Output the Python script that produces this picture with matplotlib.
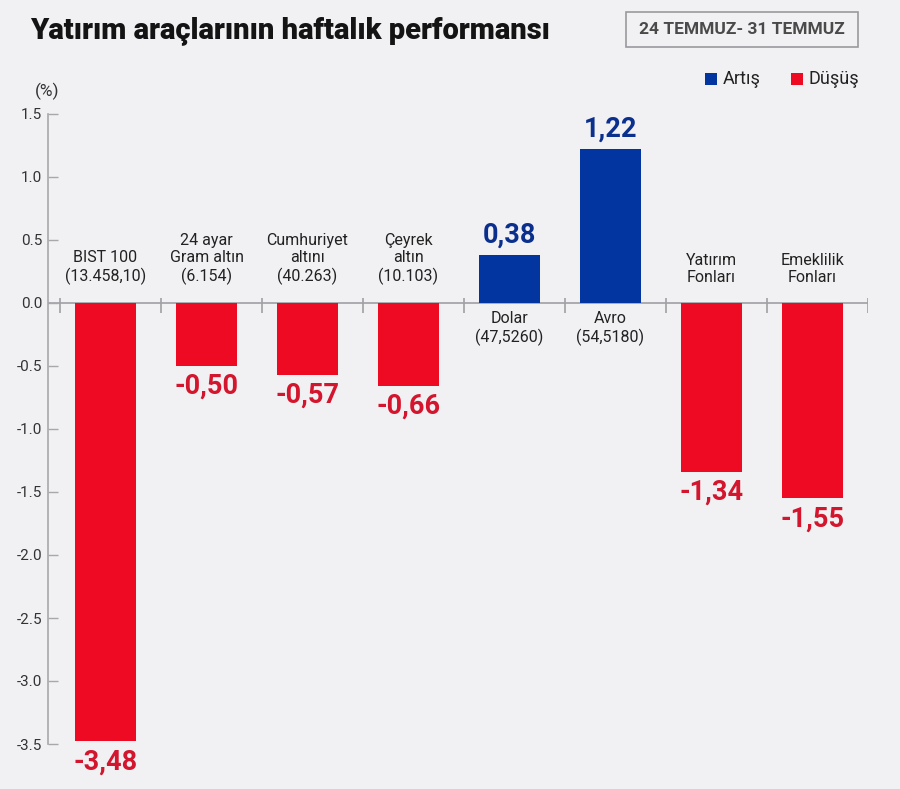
import matplotlib.pyplot as plt
from matplotlib.patches import Rectangle

# veriler
kategoriler = ['BIST 100\n(13.458,10)', '24 ayar\nGram altın\n(6.154)', 'Cumhuriyet\naltını\n(40.263)',
               'Çeyrek\naltın\n(10.103)', 'Dolar\n(47,5260)', 'Avro\n(54,5180)',
               'Yatırım\nFonları', 'Emeklilik\nFonları']
degerler = [-3.48, -0.50, -0.57, -0.66, 0.38, 1.22, -1.34, -1.55]
etiketler = ['-3,48', '-0,50', '-0,57', '-0,66', '0,38', '1,22', '-1,34', '-1,55']
yticks = [1.5, 1.0, 0.5, 0.0, -0.5, -1.0, -1.5, -2.0, -2.5, -3.0, -3.5]

BG = '#f1f1f3'
KIRMIZI = '#ee0a22'
KIRMIZI_YAZI = '#d3152d'
MAVI = '#0335a1'
MAVI_YAZI = '#0b2f8d'

plt.rcParams['font.family'] = ['Roboto', 'DejaVu Sans']

fig = plt.figure(figsize=(9, 7.89), dpi=100, facecolor=BG)
ax = fig.add_axes([48/900, 45/789, 820/900, 630/789])
ax.set_facecolor(BG)

x = list(range(len(degerler)))
renkler = [MAVI if d > 0 else KIRMIZI for d in degerler]
ax.bar([i - 0.05 for i in x], degerler, width=0.6, color=renkler, zorder=2)

ax.set_xlim(-0.62, 7.5)
ax.set_ylim(-3.5, 1.5)

for s in ['top', 'right', 'bottom']:
    ax.spines[s].set_visible(False)
ax.spines['left'].set_color('#a8a8ac')
ax.spines['left'].set_linewidth(1.2)
ax.set_xticks([])
ax.set_yticks(yticks)
ax.set_yticklabels(['%.1f' % v for v in yticks])
ax.tick_params(axis='y', direction='in', length=7, color='#a8a8ac', width=1,
               labelsize=11, labelcolor='#333333', pad=4)

# sıfır çizgisi ve ayraçlar
ax.plot([-0.62, 7.5], [0, 0], color='#a0a0a4', lw=1.2, zorder=1)
ax.vlines([i + 0.5 for i in range(-1, 8)], -0.08, 0.04, color='#a0a0a4', lw=1.2, zorder=1)

for i, (d, k, e) in enumerate(zip(degerler, kategoriler, etiketler)):
    xc = i - 0.05
    if d < 0:
        ax.annotate(k, (xc, 0), xytext=(0, 13), textcoords='offset points', ha='center', va='bottom',
                    fontsize=11.5, color='#222222', linespacing=1.2)
        ax.annotate(e, (xc, d), xytext=(0, -5), textcoords='offset points', ha='center', va='top',
                    fontsize=19.5, fontweight='bold', color=KIRMIZI_YAZI, annotation_clip=False)
    else:
        ax.annotate(k, (xc, 0), xytext=(0, -6), textcoords='offset points', ha='center', va='top',
                    fontsize=11.5, color='#222222', linespacing=1.2)
        ax.annotate(e, (xc, d), xytext=(0, 5), textcoords='offset points', ha='center', va='bottom',
                    fontsize=19.5, fontweight='bold', color=MAVI_YAZI)

# başlık ve diğer yazılar
fig.text(30/900, 1 - 31/789, 'Yatırım araçlarının haftalık performansı', fontsize=21,
         fontweight='black', color='#141414', va='center', ha='left')
fig.patches.append(Rectangle((626/900, 1 - 47/789), 232/900, 35/789, transform=fig.transFigure,
                             facecolor='none', edgecolor='#9a9a9e', lw=1.2))
fig.text(742/900, 1 - 30/789, '24 TEMMUZ- 31 TEMMUZ', fontsize=12.5, fontweight='bold',
         color='#4a4a4a', ha='center', va='center')
fig.text(47/900, 1 - 91/789, '(%)', fontsize=12.5, color='#333333', ha='center', va='center')

fig.patches.append(Rectangle((705/900, 1 - 85/789), 12/900, 12/789, transform=fig.transFigure,
                             facecolor=MAVI, edgecolor='none'))
fig.text(723/900, 1 - 79/789, 'Artış', fontsize=13, color='#222222', ha='left', va='center')
fig.patches.append(Rectangle((791/900, 1 - 85/789), 12/900, 12/789, transform=fig.transFigure,
                             facecolor=KIRMIZI, edgecolor='none'))
fig.text(809/900, 1 - 79/789, 'Düşüş', fontsize=13, color='#222222', ha='left', va='center')

fig.savefig('out.png', dpi=100, facecolor=BG)
